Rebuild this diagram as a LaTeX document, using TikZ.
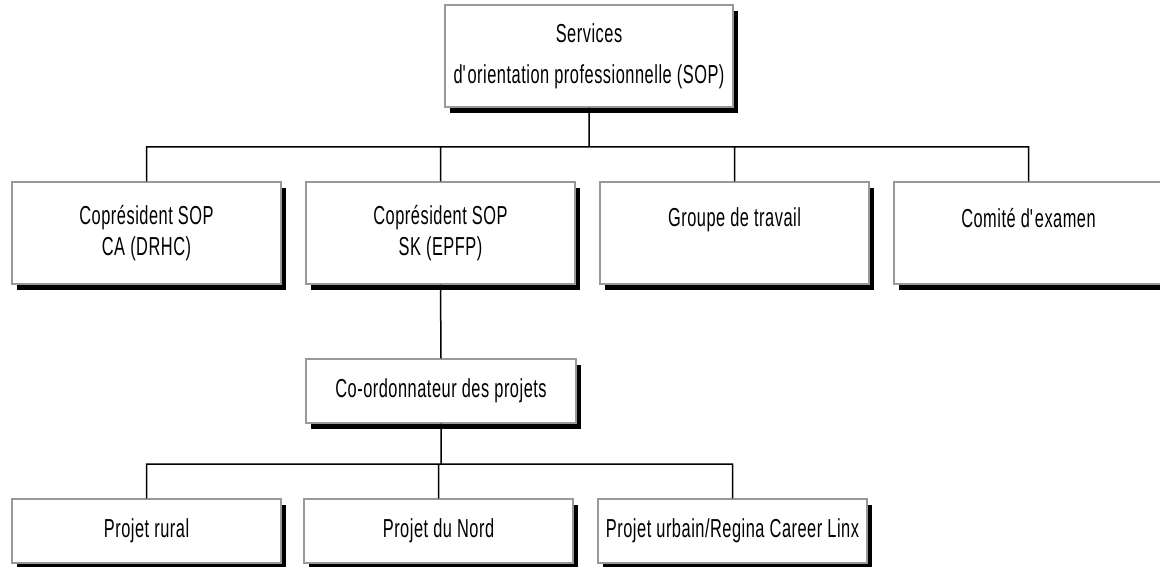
\documentclass[tikz,border=0pt]{standalone}
\usepackage{fontspec}
\setmainfont{Liberation Sans}[FakeStretch=0.63, LetterSpace=2]
\usetikzlibrary{shadows}

\begin{document}
\begin{tikzpicture}[x=1pt, y=-1pt, node distance=294pt,
  org node/.style={draw=black!40, line width=1.4pt, fill=white, align=center,
    minimum width=269pt, inner sep=0pt,
    font=\fontsize{26}{31}\selectfont,
    drop shadow={shadow xshift=5pt, shadow yshift=-6pt, opacity=1, fill=black}},
  big node/.style={org node, minimum height=102pt},
  small node/.style={org node, minimum height=64pt},
  link/.style={draw=black, line width=1.5pt}]
\useasboundingbox (0,0) rectangle (1160,567);

\node[big node, minimum width=288pt] (sop) at (589,56)
  {\rule{0pt}{12pt}Services\\[10pt]d\textquotesingle orientation professionnelle (SOP)};

\node[big node]                 (copresca) at (146.5,233) {Coprésident SOP\\CA (DRHC)};
\node[big node, right of=copresca] (copressk)  {Coprésident SOP\\SK (EPFP)};
\node[big node, right of=copressk] (groupe)    {Groupe de travail\\\mbox{}};
\node[big node, right of=groupe]   (comite)    {Comité d\textquotesingle examen\\\mbox{}};

\node[small node, minimum width=270pt] (coord) at (441,391) {Co-ordonnateur des projets};

\node[small node]                  (rural)  at (146.5,531) {Projet rural};
\node[small node, right of=rural, node distance=292pt] (nord)   {Projet du Nord};
\node[small node, right of=nord, node distance=294pt]  (urbain) {Projet urbain/Regina Career Linx};

\coordinate (bus1) at (589,147);
\coordinate (bus2) at (441,464);

\path[link]
(sop.south)      -- (bus1)
(copresca.north) |- (bus1) -| (comite.north)
(copressk.north) -- (copressk.north |- bus1)
(groupe.north)   -- (groupe.north |- bus1)
(copressk.south) -- (coord.north)
(coord.south)    -- (bus2)
(rural.north)    |- (bus2) -| (urbain.north)
(nord.north)     -- (nord.north |- bus2)
;
\end{tikzpicture}
\end{document}
